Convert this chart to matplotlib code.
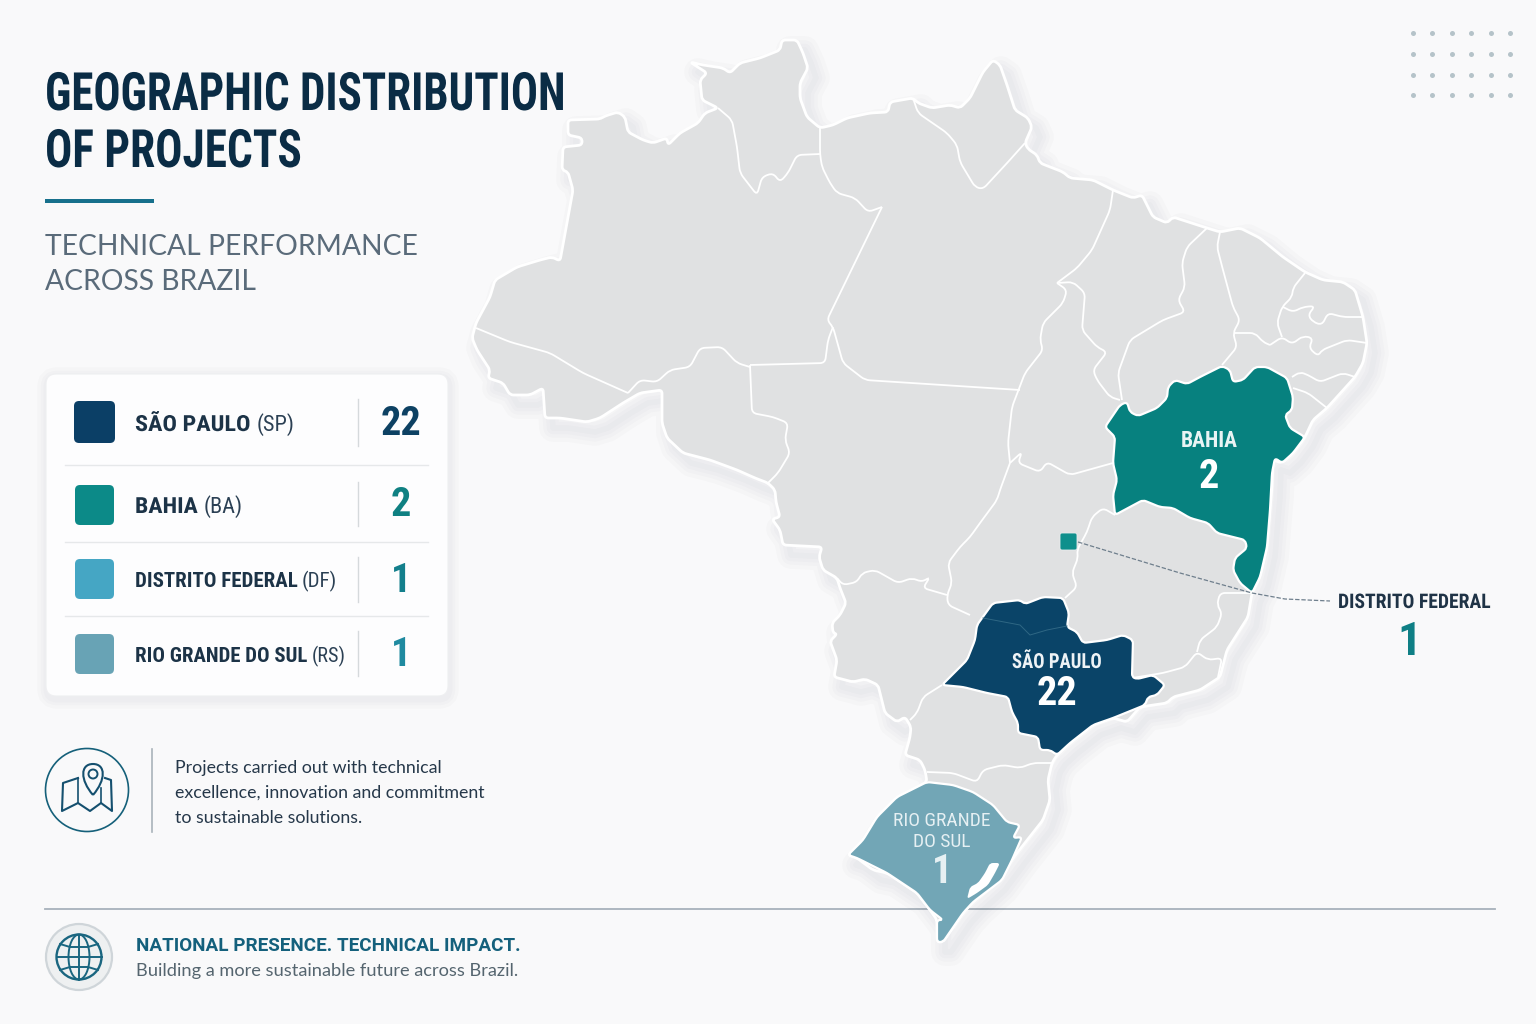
import numpy as np
import matplotlib
matplotlib.use('Agg')
import matplotlib.pyplot as plt
from matplotlib.patches import Polygon, FancyBboxPatch, Circle, Ellipse, PathPatch, Rectangle
from matplotlib.path import Path
from matplotlib.patheffects import AbstractPathEffect
from matplotlib.transforms import Affine2D

# legend data
legend_names = ['SÃO PAULO', 'BAHIA', 'DISTRITO FEDERAL', 'RIO GRANDE DO SUL']
legend_abbr = ['(SP)', '(BA)', '(DF)', '(RS)']
legend_counts = [22, 2, 1, 1]
legend_colors = ['#0b3f66', '#0c8a88', '#45a6c4', '#68a3b5']
count_colors = ['#0d4163', '#0f8082', '#137f8c', '#1f8aa0']

# map outlines in image pixels
brazil = [(476,323),(490,297),(495,280),(517,267),(540,260),(552,257),(560,261),(573,190),(568,172),(562,170),(563,147),(582,145),(582,138),(568,135),(568,120),(600,119),(605,116),(618,112),(625,117),(628,132),(643,140),(653,143),(667,138),(668,145),(680,133),(698,123),(705,113),(718,108),(702,100),(700,80),(707,73),(690,62),(703,65),(723,68),(730,73),(740,63),(760,58),(780,50),(782,40),(797,40),(803,53),(808,68),(800,83),(800,98),(807,117),(820,128),(833,125),(847,118),(870,113),(888,112),(890,102),(913,98),(918,103),(932,108),(950,105),(960,108),(970,98),(983,72),(993,60),(1000,65),(1007,85),(1015,110),(1028,118),(1032,127),(1025,143),(1028,149),(1037,155),(1040,163),(1063,172),(1070,178),(1093,180),(1113,190),(1133,198),(1142,195),(1153,217),(1167,223),(1173,217),(1207,228),(1220,232),(1240,228),(1260,238),(1283,257),(1305,272),(1323,280),(1343,282),(1355,290),(1363,317),(1367,343),(1363,363),(1355,377),(1327,408),(1313,420),(1305,437),(1293,453),(1282,463),(1273,460),(1272,487),(1270,510),(1267,547),(1260,577),(1252,593),(1248,617),(1227,650),(1220,677),(1200,690),(1173,697),(1167,703),(1140,707),(1127,722),(1113,718),(1093,725),(1070,743),(1057,755),(1052,763),(1048,780),(1050,800),(1043,820),(1017,853),(997,880),(973,902),(963,913),(943,942),(937,942),(937,920),(930,910),(917,893),(887,873),(873,870),(857,858),(848,855),(863,840),(877,817),(897,797),(927,782),(925,770),(920,760),(905,755),(910,737),(911,727),(905,717),(897,722),(885,713),(878,685),(865,679),(853,682),(834,677),(837,660),(830,641),(837,634),(833,633),(832,623),(840,615),(846,603),(840,588),(837,578),(823,570),(819,557),(822,547),(783,545),(780,530),(772,519),(780,517),(776,502),(775,490),(768,483),(755,478),(737,470),(710,460),(683,453),(667,438),(662,423),(662,390),(640,393),(623,403),(600,418),(587,422),(560,418),(545,418),(543,388),(530,395),(510,395),(503,383),(488,378),(490,370),(477,350),(472,338)]
bahia = [(1105,427),(1120,405),(1127,402),(1130,412),(1138,416),(1157,408),(1167,398),(1168,387),(1175,380),(1187,384),(1200,377),(1222,366),(1230,370),(1233,382),(1243,380),(1255,367),(1267,367),(1287,378),(1293,397),(1292,410),(1285,415),(1290,428),(1305,437),(1293,453),(1282,463),(1275,458),(1272,473),(1270,510),(1267,547),(1260,577),(1252,593),(1240,583),(1233,570),(1235,558),(1247,548),(1245,540),(1217,533),(1208,523),(1190,518),(1173,508),(1160,507),(1143,500),(1115,515),(1113,495),(1117,480),(1113,463),(1115,437)]
sao_paulo = [(942,685),(967,660),(975,640),(977,625),(993,603),(1020,600),(1025,604),(1043,597),(1063,598),(1069,613),(1067,627),(1077,632),(1083,643),(1107,640),(1123,635),(1133,640),(1132,677),(1137,679),(1153,675),(1165,685),(1157,695),(1148,697),(1145,705),(1113,718),(1093,725),(1070,743),(1057,755),(1050,750),(1040,750),(1038,737),(1018,733),(1018,723),(1012,712),(1008,697),(987,693),(963,687)]
rio_grande = [(848,855),(863,840),(877,817),(897,797),(927,782),(953,785),(973,792),(993,805),(1007,822),(1020,825),(1013,838),(1022,837),(1012,860),(1002,880),(973,902),(963,913),(943,942),(937,942),(937,920),(943,920),(930,910),(917,893),(887,873),(857,858)]
lagoon = [(967,899),(970,887),(978,883),(985,873),(990,863),(1000,863),(995,873),(988,885),(977,893)]
sp_seam = [(983,618),(1020,625),(1030,635),(1047,630),(1067,626)]

borders = [
    [(476,328),(510,342),(550,353),(583,373),(628,393)],
    [(628,393),(640,380),(657,382),(670,370),(690,367),(700,348),(722,347),(737,363),(750,367)],
    [(750,365),(752,413),(773,417),(788,423),(785,440),(790,453),(778,473),(768,483)],
    [(750,365),(825,363),(828,340),(833,327)],
    [(882,207),(827,320),(833,327),(843,363),(865,380),(1020,390)],
    [(718,108),(732,120),(737,147),(740,173),(757,195),(762,177),(773,173),(780,182),(788,173),(797,155),(820,154)],
    [(820,128),(820,154),(822,167),(830,183),(837,193),(855,198),(868,212),(882,207)],
    [(913,98),(918,113),(947,133),(957,145),(960,162),(975,187),(983,189),(1008,162),(1025,143)],
    [(1113,190),(1110,210),(1092,250),(1077,268),(1057,283)],
    [(1057,283),(1067,290),(1063,303),(1043,323),(1040,340),(1043,350),(1025,373),(1012,407),(1008,443),(1010,463)],
    [(1057,283),(1073,282),(1085,293),(1082,330),(1097,347),(1107,352),(1093,370),(1097,380),(1110,397),(1120,400)],
    [(1207,228),(1187,247),(1182,263),(1185,287),(1178,300),(1185,312),(1163,320),(1130,340),(1118,373),(1122,400)],
    [(1220,232),(1217,247),(1223,270),(1233,307),(1240,320),(1233,333),(1237,347),(1222,365)],
    [(1235,333),(1255,333),(1263,342),(1270,345)],
    [(1305,273),(1293,288),(1292,297),(1282,307),(1277,323),(1282,337)],
    [(1283,307),(1293,312),(1303,307),(1315,306),(1308,315),(1313,322),(1322,325),(1328,313),(1343,317),(1363,317)],
    [(1270,345),(1282,337),(1292,344),(1303,336),(1313,338),(1309,348),(1318,356),(1322,350),(1347,340),(1367,343)],
    [(1292,377),(1300,372),(1308,375),(1320,382),(1343,373),(1355,377)],
    [(1293,388),(1308,393),(1327,408)],
    [(1010,463),(1022,452),(1018,463),(1040,472),(1047,462),(1070,475),(1113,463)],
    [(1010,463),(1000,490),(997,500),(980,523),(970,537),(960,547),(948,563),(952,583),(947,595),(948,605),(970,615)],
    [(837,578),(843,585),(857,582),(862,573),(875,570),(898,583),(912,578),(922,582),(930,577),(923,588),(947,595)],
    [(1065,598),(1077,587),(1072,573),(1078,558),(1077,550),(1087,532),(1092,517),(1103,508),(1115,515)],
    [(942,685),(923,697),(917,713),(910,720)],
    [(927,772),(953,773),(977,782),(983,770),(1003,765),(1020,768),(1033,763),(1052,763)],
    [(1252,593),(1220,593),(1217,605),(1222,613),(1217,627),(1200,640),(1197,652)],
    [(1132,678),(1163,673),(1185,667),(1197,652),(1208,660),(1222,658),(1218,677)],
]
leader_x = [1078, 1180, 1252, 1285, 1330]
leader_y = [542, 573, 593, 599, 601]

BG = '#f9f9fa'
LAND = '#e0e1e2'
NAVY = '#0a2c45'
NARROW = ['Roboto Condensed', 'Liberation Sans Narrow', 'Liberation Sans']
BODY = ['Roboto', 'Noto Sans']
SOFT = ['Lato', 'Open Sans']

fig = plt.figure(figsize=(15.36, 10.24), dpi=100, facecolor=BG)
ax = fig.add_axes([0, 0, 1, 1])
ax.set_xlim(0, 1536)
ax.set_ylim(1024, 0)
ax.axis('off')


class Squeeze(AbstractPathEffect):
    # no condensed enough font installed, so narrow the glyphs about x0
    def __init__(self, sx, x0):
        super().__init__()
        self.sx = sx
        self.x0 = x0

    def draw_path(self, renderer, gc, tpath, affine, rgbFace=None):
        aff = affine + Affine2D().translate(-self.x0, 0).scale(self.sx, 1).translate(self.x0, 0)
        renderer.draw_path(gc, tpath, aff, rgbFace)


def rounded(pts, closed=True, r=5.0):
    # soften the corners of a traced outline, long straight runs stay straight
    p = np.array(pts, dtype=float)
    n = len(p)
    verts, codes = [], []
    idx = range(n) if closed else range(1, n - 1)
    if not closed:
        verts.append(p[0])
        codes.append(Path.MOVETO)
    for i in idx:
        a, b, c = p[(i - 1) % n], p[i], p[(i + 1) % n]
        d1 = min(r, np.hypot(*(a - b)) / 2)
        d2 = min(r, np.hypot(*(c - b)) / 2)
        c1 = b + (a - b) / np.hypot(*(a - b)) * d1
        c2 = b + (c - b) / np.hypot(*(c - b)) * d2
        verts += [c1, b, c2]
        first = closed and not verts[:-3]
        codes += [Path.MOVETO if first else Path.LINETO, Path.CURVE3, Path.CURVE3]
    if closed:
        verts.append(verts[0])
        codes.append(Path.CLOSEPOLY)
    else:
        verts.append(p[-1])
        codes.append(Path.LINETO)
    return Path(verts, codes)


def shadow(pts, dx=8, dy=10, z=2):
    arr = np.array(pts, dtype=float) + [dx, dy]
    for lw in (20, 14, 9, 4):
        ax.add_patch(Polygon(arr, closed=True, fc='none', ec='#20303a', lw=lw, alpha=0.016,
                             joinstyle='round', zorder=z))


def txt(x, y, s, size, color, family=BODY, weight='normal', ha='left', z=10, sx=None):
    t = ax.text(x, y, s, fontsize=size, color=color, family=family, weight=weight,
                ha=ha, va='baseline', zorder=z)
    if sx is not None:
        t.set_path_effects([Squeeze(sx, x)])
    return t


# rule at the bottom goes under the map
ax.plot([45, 1495], [909, 909], color='#a8b2bb', lw=1.3, zorder=1)

# map
shadow(brazil)
ax.add_patch(PathPatch(rounded(brazil, r=3.5), fc=LAND, ec='white', lw=2.0, joinstyle='round', zorder=3))
for line in borders:
    ax.add_patch(PathPatch(rounded(line, closed=False), fc='none', ec='white', lw=1.3, zorder=4))
for pts, col in [(bahia, '#07817f'), (sao_paulo, '#0a4468'), (rio_grande, '#72a6b6')]:
    ax.add_patch(PathPatch(rounded(pts, r=3.5), fc=col, ec='white', lw=1.6, joinstyle='round', zorder=5))
ax.add_patch(PathPatch(rounded(lagoon, r=3), fc='white', ec='none', zorder=6))
seam = np.array(sp_seam)
ax.plot(seam[:, 0], seam[:, 1], color='#2f6784', lw=0.7, zorder=6)

# DF marker and leader
ax.add_patch(FancyBboxPatch((1060, 533), 17, 17, boxstyle='round,pad=0,rounding_size=2',
                            fc='#0f8f8c', ec='#e8eced', lw=0.6, zorder=7))
ax.plot(leader_x, leader_y, color='#6f7f8d', lw=0.9, ls=(0, (3.5, 1.5)), zorder=7)

# map labels
txt(1209, 447, 'BAHIA', 15.5, '#e9f4f4', NARROW, 'bold', 'center')
txt(1209, 488, '2', 29, 'white', NARROW, 'bold', 'center')
txt(1057, 668, 'SÃO PAULO', 15, '#eef3f6', NARROW, 'bold', 'center', sx=0.9)
txt(1057, 705, '22', 29, 'white', NARROW, 'bold', 'center')
txt(942, 826, 'RIO GRANDE', 14, '#e6f0f3', NARROW, 'normal', 'center')
txt(942, 847, 'DO SUL', 14, '#e6f0f3', NARROW, 'normal', 'center')
txt(942, 883, '1', 29, '#e6f0f3', NARROW, 'bold', 'center')
txt(1338, 608, 'DISTRITO FEDERAL', 14.5, '#1f3346', NARROW, 'bold', sx=0.975)
txt(1409, 655, '1', 34, '#0f7f85', NARROW, 'bold', 'center')

# title block
txt(45, 110, 'GEOGRAPHIC DISTRIBUTION', 38, NAVY, NARROW, 'bold', sx=0.852)
txt(45, 167, 'OF PROJECTS', 38, NAVY, NARROW, 'bold', sx=0.858)
ax.add_patch(Rectangle((45, 199), 109, 4, fc='#17708c', ec='none', zorder=8))
txt(45, 255, 'TECHNICAL PERFORMANCE', 20.3, '#5a6b7a', SOFT)
txt(45, 290, 'ACROSS BRAZIL', 20.3, '#5a6b7a', SOFT)

# legend card
card = (46, 374, 402, 322)
for lw in (14, 9, 5):
    ax.add_patch(FancyBboxPatch((card[0] + 1, card[1] + 3), card[2], card[3],
                                boxstyle='round,pad=0,rounding_size=10', fc='none', ec='#20303a',
                                lw=lw, alpha=0.014, zorder=2))
ax.add_patch(FancyBboxPatch(card[:2], card[2], card[3], boxstyle='round,pad=0,rounding_size=10',
                            fc='#fdfdfe', ec='#eeeff1', lw=0.8, zorder=3))
sw_x = [74, 75, 75, 75]
sw_y = [401, 485, 559, 634]
sw_w = [41, 39, 39, 39]
sw_h = [42, 40, 40, 40]
base_y = [431, 513, 587, 662]
num_y = [435, 516, 592, 666]
div_y = [(399, 446), (482, 526), (557, 602), (631, 676)]
name_size = [16, 16, 15.05, 14.95]
name_sx = [1.085, 1.07, None, None]
abbr_x = [257, 204, 302, 312]
abbr_size = [16, 16, 15, 14.6]
for i in range(len(legend_names)):
    ax.add_patch(FancyBboxPatch((sw_x[i], sw_y[i]), sw_w[i], sw_h[i], boxstyle='round,pad=0,rounding_size=5',
                                fc=legend_colors[i], ec='none', zorder=6))
    txt(135, base_y[i], legend_names[i], name_size[i], '#1c3347', NARROW, 'bold', sx=name_sx[i])
    txt(abbr_x[i], base_y[i], legend_abbr[i], abbr_size[i], '#2b4054', NARROW)
    ax.plot([358, 358], div_y[i], color='#d5d9dc', lw=1, zorder=6)
    txt(401, num_y[i], str(legend_counts[i]), 29, count_colors[i], NARROW, 'bold', 'center')
for yy in (464.5, 542, 616):
    ax.plot([65, 428], [yy, yy], color='#e6e8ea', lw=1, zorder=6)

# map icon
ax.add_patch(Circle((87, 790), 41.5, fc='none', ec='#15607a', lw=1.2, zorder=6))
ic = '#15506f'
ax.plot([78, 63, 62, 78, 90, 101, 112, 111, 105], [778, 783, 811, 803, 811, 803, 811, 780, 778],
        color=ic, lw=1.5, zorder=6)
ax.plot([78, 78], [778, 803], color=ic, lw=1.2, zorder=6)
ax.plot([101, 101], [788, 803], color=ic, lw=1.2, zorder=6)
ax.add_patch(PathPatch(Path([(93, 795), (80, 780), (80, 764), (93, 764), (106, 764), (106, 780), (93, 795)],
                            [Path.MOVETO, Path.CURVE4, Path.CURVE4, Path.CURVE4, Path.CURVE4, Path.CURVE4, Path.CURVE4]),
                       fc=BG, ec=ic, lw=1.5, zorder=7))
ax.add_patch(Circle((93, 774), 4.5, fc='none', ec=ic, lw=1.4, zorder=8))
ax.plot([152, 152], [749, 832], color='#a9b3ba', lw=1.2, zorder=6)
para = ['Projects carried out with technical', 'excellence, innovation and commitment', 'to sustainable solutions.']
for yy, s in zip((773, 798, 823), para):
    txt(175, yy, s, 12.75, '#26384a', SOFT)

# footer
ax.add_patch(Circle((79, 957), 33, fc='#eef0f1', ec='#cfd5d9', lw=1.6, zorder=6))
gc = '#1a6680'
ax.add_patch(Circle((79, 957), 22.5, fc='none', ec=gc, lw=1.7, zorder=7))
ax.add_patch(Ellipse((79, 957), 21, 45, fc='none', ec=gc, lw=1.4, zorder=7))
ax.plot([79, 79], [934.5, 979.5], color=gc, lw=1.4, zorder=7)
ax.plot([56.5, 101.5], [957, 957], color=gc, lw=1.4, zorder=7)
ax.plot([60, 70, 88, 98], [944, 947, 947, 944], color=gc, lw=1.4, zorder=7)
ax.plot([60, 70, 88, 98], [970, 967, 967, 970], color=gc, lw=1.4, zorder=7)
txt(136, 951, 'NATIONAL PRESENCE. TECHNICAL IMPACT.', 13.55, '#14607c', BODY, 'bold')
txt(136, 976, 'Building a more sustainable future across Brazil.', 13.15, '#55656f', SOFT)

# dot grid, top right
for gy in (33, 54, 75, 95):
    ax.scatter(np.linspace(1413, 1510, 6), [gy] * 6, s=13, color='#b5c3c9', lw=0, zorder=2)

fig.savefig('out.png', dpi=100, facecolor=BG)
